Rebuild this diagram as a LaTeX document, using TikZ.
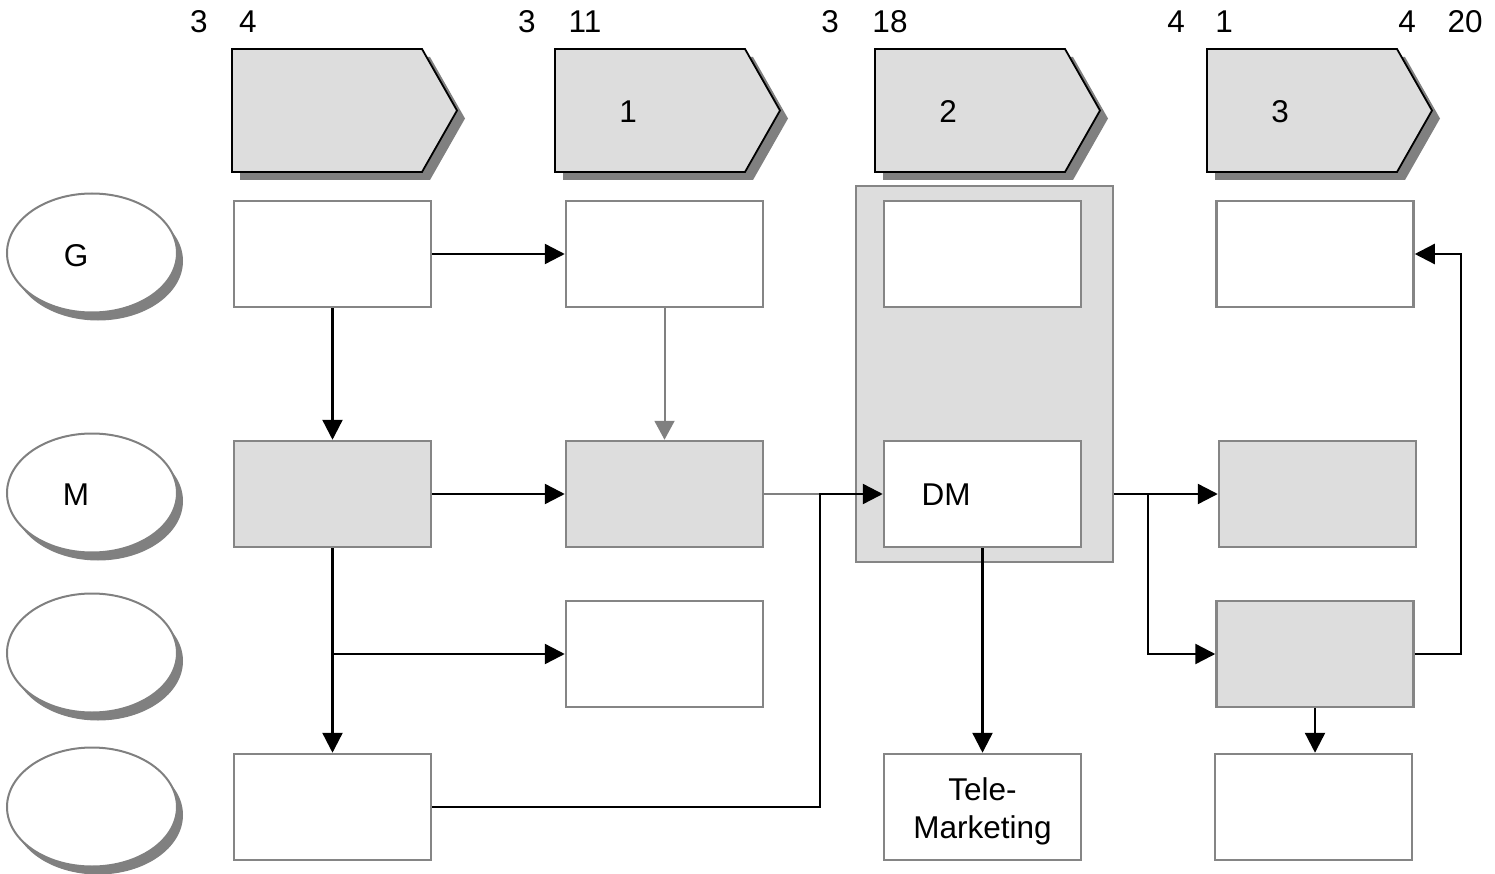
\documentclass[tikz,border=0pt]{standalone}
\usepackage{fontspec}
\setmainfont{Liberation Sans}
\usetikzlibrary{arrows.meta,shapes.geometric,shadows}
\definecolor{fillgray}{HTML}{DDDDDD}
\definecolor{bordergray}{HTML}{858585}
\definecolor{shadowgray}{HTML}{808080}
\newcommand{\chevshape}[3]{%
  \fill[shadowgray] (#1+8,57) -- (#1+198,57) -- (#1+233,118.5) -- (#1+198,180) -- (#1+8,180) -- cycle;
  \draw[pentstyle] (#1,49) -- (#1+190,49) -- (#1+225,110.5) -- (#1+190,172) -- (#1,172) -- cycle;
  \node[txt] (#2) at (#1+73,112) {#3};
}
\begin{document}
\begin{tikzpicture}[x=1pt,y=-1pt,
  txt/.style={font=\fontsize{31.5}{38}\selectfont, inner sep=0pt, align=center},
  pentstyle/.style={fill=fillgray, draw=black, line width=1.8pt, line join=miter},
  box/.style={draw=bordergray, line width=2.5pt, fill=white, minimum width=197pt, minimum height=106pt, inner sep=0pt},
  gbox/.style={box, fill=fillgray},
  ell/.style={ellipse, draw=shadowgray, line width=2pt, fill=white, minimum width=170pt, minimum height=119pt, inner sep=0pt,
     drop shadow={shadow xshift=6pt, shadow yshift=-8pt, fill=shadowgray, opacity=1}},
  conn/.style={draw=black, line width=2.4pt, -{Triangle[length=20pt,width=20pt]}},
  gconn/.style={draw=shadowgray, line width=2pt, -{Triangle[length=19pt,width=20pt]}},
  gline/.style={draw=shadowgray, line width=2pt}]
\useasboundingbox (0,0) rectangle (1495,874);

% top numbers
\node[txt] (t1) at (199,22) {3};
\node[txt] (t2) at (248,22) {4};
\node[txt] (t3) at (527,22) {3};
\node[txt] (t4) at (585,22) {11};
\node[txt] (t5) at (830,22) {3};
\node[txt] (t6) at (890,22) {18};
\node[txt] (t7) at (1176,22) {4};
\node[txt] (t8) at (1224,22) {1};
\node[txt] (t9) at (1407,22) {4};
\node[txt] (t10) at (1465,22) {20};

% chevrons
\chevshape{232}{c0}{}
\chevshape{555}{c1}{1}
\chevshape{875}{c2}{2}
\chevshape{1207}{c3}{3}

% ellipses
\node[ell] (eG) at (92,253) {};
\node[txt] (lG) at (76,256) {G};
\node[ell] (eM) at (92,493) {};
\node[txt] (lM) at (76,495) {M};
\node[ell] (e3) at (92,653) {};
\node[ell] (e4) at (92,807) {};

% panel
\node[draw=bordergray, line width=2.5pt, fill=fillgray, minimum width=257pt, minimum height=376pt, inner sep=0pt] (panel) at (984.5,374) {};

% boxes
\node[box] (A) at (332.5,254) {};
\node[box] (B) at (664.5,254) {};
\node[box] (C) at (982.5,254) {};
\node[box] (D) at (1315,254) {};
\node[gbox] (M1) at (332.5,494) {};
\node[gbox] (M2) at (664.5,494) {};
\node[box] (DM) at (982.5,494) {};
\node[txt] (lDM) at (946,495) {DM};
\node[gbox] (R2d) at (1317.5,494) {};
\node[box] (R3a) at (664.5,654) {};
\node[gbox] (R3d) at (1315,654) {};
\node[box] (R4a) at (332.5,807) {};
\node[box] (TM) at (982.5,807) {};
\node[txt] (lTM) at (982.5,811) {Tele-\\Marketing};
\node[box] (R4d) at (1313.5,807) {};

% junction coordinates
\coordinate (j1) at (820,494);
\coordinate (j2) at (332.5,654);
\coordinate (j3) at (1148,494);
\coordinate (j4) at (1461,654);

% connectors
\draw[conn] (A) -- (B);
\draw[conn] (A) -- (M1);
\draw[gconn] (B) -- (M2);
\draw[conn] (M1) -- (M2);
\draw[gline] (M2.east) -- (j1);
\draw[conn] (R4a.east) -| (j1) -- (DM.west);
\draw[conn] (M1.south) -- (R4a.north);
\draw[conn] (j2) -- (R3a.west);
\draw[conn] (DM.south) -- (TM.north);
\draw[conn] (panel.east |- DM) -- (R2d.west);
\draw[conn] (j3) |- (R3d.west);
\draw[conn] (R3d.east) -- (j4) |- (D.east);
\draw[conn] (R3d.south) -- (R3d.south |- R4d.north);
\end{tikzpicture}
\end{document}
